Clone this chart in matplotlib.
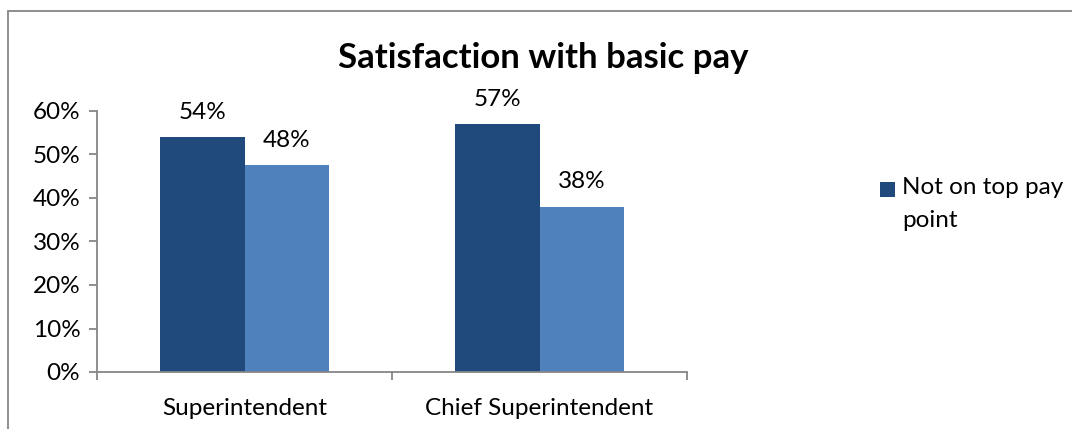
import matplotlib.pyplot as plt
import numpy as np
from matplotlib.patches import Rectangle

plt.rcParams['font.family'] = ['Lato', 'DejaVu Sans']

# data
categories = ["Superintendent", "Chief Superintendent"]
series_names = ["Not on top pay point", "On top pay point"]
not_top = [0.54, 0.57]
on_top = [0.476, 0.38]
colors = ["#214A7C", "#4F81BD"]
yticks = [0, 0.1, 0.2, 0.3, 0.4, 0.5, 0.6]

fs = 17.5
W, H = 1072, 429

fig = plt.figure(figsize=(W / 100, H / 100), dpi=100)
ax = fig.add_axes([97 / W, 1 - 372 / H, 590 / W, 261 / H])

# outer chart frame (runs off the right and bottom edges)
fig.patches.append(Rectangle((8 / W, -0.05), 1.2, 1 - 11 / H + 0.05,
                             transform=fig.transFigure, fill=False,
                             edgecolor="#868686", linewidth=1.3))

x = np.arange(len(categories))
w = 0.2865
b1 = ax.bar(x - w / 2, not_top, w, color=colors[0], label=series_names[0])
b2 = ax.bar(x + w / 2, on_top, w, color=colors[1], label=series_names[1])

for bars, vals in ((b1, not_top), (b2, on_top)):
    for rect, v in zip(bars, vals):
        ax.text(rect.get_x() + rect.get_width() / 2, v + 0.057, f"{v:.0%}",
                ha="center", va="center", fontsize=fs)

ax.set_xlim(-0.5, 1.5)
ax.set_ylim(0, 0.6)
ax.set_yticks(yticks)
ax.set_yticklabels([f"{t:.0%}" for t in yticks], fontsize=fs)
ax.set_xticks(x)
ax.set_xticklabels(categories, fontsize=fs)
ax.set_xticks([-0.5, 0.5, 1.5], minor=True)
ax.tick_params(axis="x", which="major", length=0, pad=19)
ax.tick_params(axis="x", which="minor", length=6, color="#868686", width=1.3)
ax.tick_params(axis="y", length=6, color="#868686", width=1.3, pad=6)

for s in ("top", "right"):
    ax.spines[s].set_visible(False)
for s in ("left", "bottom"):
    ax.spines[s].set_color("#868686")
    ax.spines[s].set_linewidth(1.3)

fig.text(543 / W, 1 - 58 / H, "Satisfaction with basic pay",
         ha="center", va="center", fontsize=25, fontweight="bold")

# legend: only the first series entry fits in the chart area
fig.patches.append(Rectangle((880 / W, 1 - 197 / H), 15 / W, 15 / H,
                             transform=fig.transFigure,
                             facecolor=colors[0], edgecolor="none"))
fig.text(902 / W, 1 - 177 / H, "Not on top pay\npoint", ha="left", va="top",
         fontsize=fs, linespacing=1.7)

fig.savefig("out.png", dpi=100)
